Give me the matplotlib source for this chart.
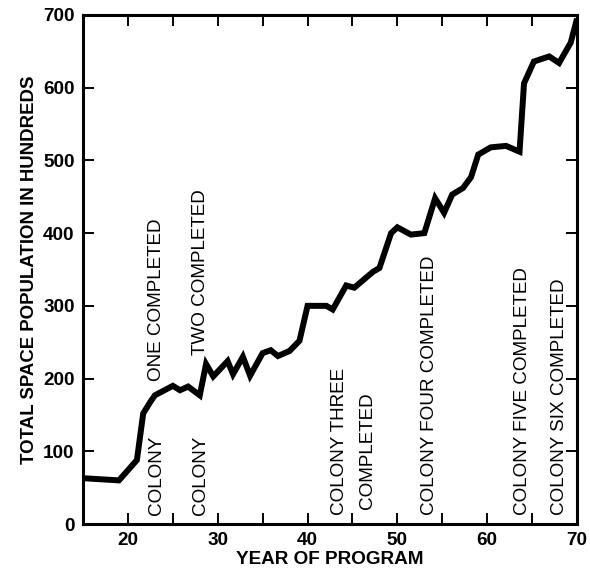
import matplotlib
matplotlib.use("Agg")
import matplotlib.pyplot as plt
from matplotlib.ticker import MultipleLocator

# rok programu i populacja w kosmosie (w setkach)
lata = [15, 19, 21, 21.7, 22.5, 23, 25, 25.8, 26.7, 28, 28.7, 29.5, 31.1, 31.7,
        32.8, 33.6, 35, 35.9, 36.7, 38, 39.1, 40, 42.1, 42.8, 44.3, 45.2, 47.3,
        48, 49.3, 50, 51.5, 53, 54.2, 55.2, 56.1, 57.3, 58.2, 59, 60.4, 62.1,
        63.6, 64.1, 65.2, 66.9, 68, 69.3, 70]
populacja = [63, 60, 88, 152, 168, 177, 190, 184, 189, 177, 220, 203, 224, 206,
             230, 204, 235, 239, 231, 238, 252, 300, 300, 295, 328, 325, 347,
             352, 400, 408, 398, 400, 448, 428, 453, 462, 477, 508, 518, 520,
             512, 606, 636, 643, 634, 662, 695]

# podpisy kolonii: (rok, dolna krawedz tekstu, tekst)
podpisy_x = [23.2, 23.2, 28.1, 28.1, 43.6, 46.7, 53.6, 63.9, 68.1]
podpisy_y = [12, 196, 12, 232, 12, 20, 12, 12, 12]
podpisy = ["COLONY", "ONE COMPLETED", "COLONY", "TWO COMPLETED",
           "COLONY THREE", "COMPLETED", "COLONY FOUR COMPLETED",
           "COLONY FIVE COMPLETED", "COLONY SIX COMPLETED"]

plt.rcParams['font.family'] = ['Liberation Sans', 'DejaVu Sans']

fig = plt.figure(figsize=(5.9, 5.72), dpi=100)
ax = fig.add_axes([0.1407, 0.0839, 0.8373, 0.8899])

ax.plot(lata, populacja, color='black', linewidth=4.3,
        solid_joinstyle='miter', solid_capstyle='butt')

for x, y, t in zip(podpisy_x, podpisy_y, podpisy):
    ax.text(x, y, t, rotation=90, ha='center', va='bottom',
            fontsize=13.6, color='black')

ax.set_xlim(15, 70)
ax.set_ylim(0, 700)
ax.xaxis.set_major_locator(MultipleLocator(10))
ax.xaxis.set_minor_locator(MultipleLocator(5))
ax.yaxis.set_major_locator(MultipleLocator(100))

ax.tick_params(which='both', direction='in', top=True, right=True,
               width=1.4, labelsize=13.6, pad=6)
ax.tick_params(which='major', length=8)
ax.tick_params(which='minor', length=8)
ax.tick_params(axis='y', labelright=False)
for lab in ax.get_xticklabels() + ax.get_yticklabels():
    lab.set_fontweight('bold')

for s in ax.spines.values():
    s.set_linewidth(2.2)

ax.set_xlabel('YEAR OF PROGRAM', fontsize=13.6, fontweight='bold', labelpad=1)
ax.set_ylabel('TOTAL SPACE POPULATION IN HUNDREDS', fontsize=13.4,
              fontweight='bold', labelpad=4)

fig.savefig('out.png', dpi=100)
